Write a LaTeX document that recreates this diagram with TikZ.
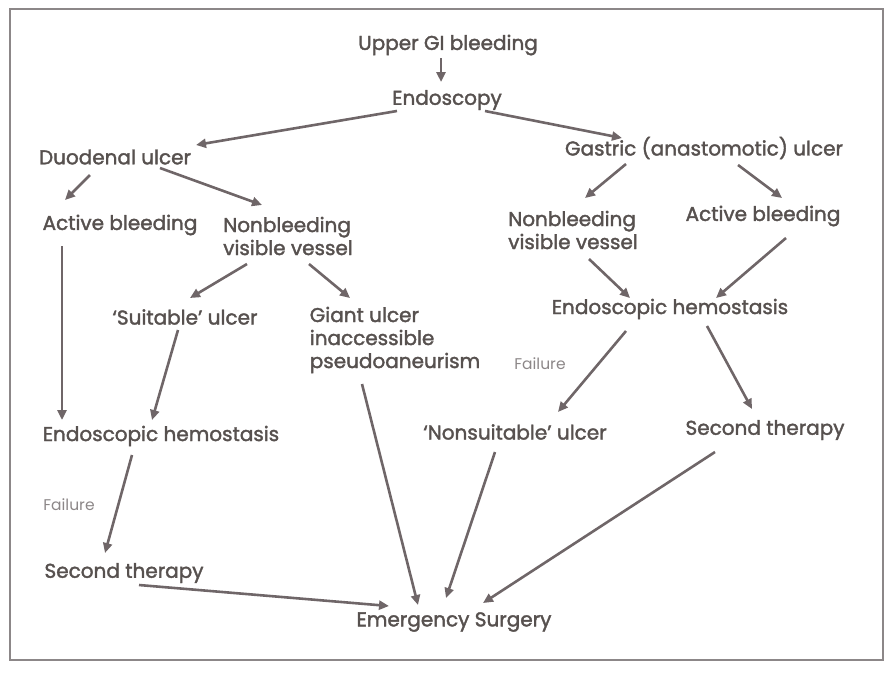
\documentclass[tikz,border=0pt]{standalone}
\usepackage{fontspec}
\setmainfont{Poppins}
\newfontfamily\stepfont{Poppins}[FakeBold=1.8]
\usepackage{xcolor}
\usetikzlibrary{arrows.meta,calc}
\definecolor{txtgray}{HTML}{57514F}
\definecolor{arrgray}{HTML}{6F6668}
\definecolor{lightgray}{HTML}{8C8788}

\begin{document}
\begin{tikzpicture}[x=1pt, y=-1pt,
  stepN/.style={inner sep=0pt, text=txtgray, font=\stepfont\fontsize{20}{23}\selectfont},
  multiN/.style={stepN, align=left},
  failN/.style={inner sep=0pt, text=lightgray, font=\fontsize{15.5}{18}\selectfont},
  arr/.style={draw=arrgray, line width=2.6pt, -{Triangle[length=10pt, width=9pt]}}
]
\useasboundingbox (0,0) rectangle (890,673);
\draw[lightgray, line width=1.2pt] (10,9) rectangle (883,660);
% Top
\node[stepN] (ugi) at (448,45) {Upper GI bleeding};
\node[stepN] (endo) at (447,100) {Endoscopy};
\node[stepN] (duo) at (115,157) {Duodenal ulcer};
\node[stepN] (gas) at (704,148) {Gastric (anastomotic) ulcer};
% Duodenal side
\node[stepN] (actL) at (120,225) {Active bleeding};
\node[multiN] (nbL) at (288,236) {Nonbleeding\\visible vessel};
\node[stepN] (suit) at (185,317) {‘Suitable’ ulcer};
\node[multiN] (giant) at (395,340) {Giant ulcer\\inaccessible\\pseudoaneurism};
\node[stepN] (ehL) at (161,436) {Endoscopic hemostasis};
\node[failN] (failL) at (69,505) {Failure};
\node[stepN] (secL) at (124,573) {Second therapy};
% Gastric side
\node[multiN] (nbR) at (573,230) {Nonbleeding\\visible vessel};
\node[stepN] (actR) at (763,216) {Active bleeding};
\node[stepN] (ehR) at (670,309) {Endoscopic hemostasis};
\node[failN] (failR) at (540,364) {Failure};
\node[stepN] (nons) at (515,432) {‘Nonsuitable’ ulcer};
\node[stepN] (secR) at (765,430) {Second therapy};
% Bottom
\node[stepN] (emer) at (454,622) {Emergency Surgery};
% Arrows
\draw[arr] ([shift={(-7,13)}]ugi.center) -- ([shift={(-6,-18)}]endo.center);
\draw[arr] ([shift={(-50,11)}]endo.center) -- ([shift={(81,-12)}]duo.center);
\draw[arr] ([shift={(38,11)}]endo.center) -- ([shift={(-82,-10)}]gas.center);
\draw[arr] ([shift={(-25,18)}]duo.center) -- ([shift={(-55,-25)}]actL.center);
\draw[arr] ([shift={(45,11)}]duo.center) -- ([shift={(-26,-31)}]nbL.center);
\draw[arr] ([shift={(-78,16)}]gas.center) -- ([shift={(12,-32)}]nbR.center);
\draw[arr] ([shift={(34,17)}]gas.center) -- ([shift={(19,-18)}]actR.center);
\draw[arr] ([shift={(-41,28)}]nbL.center) -- ([shift={(5,-19)}]suit.center);
\draw[arr] ([shift={(21,28)}]nbL.center) -- ([shift={(-45,-42)}]giant.center);
\draw[arr] ([shift={(-58,21)}]actL.center) -- ([shift={(-99,-16)}]ehL.center);
\draw[arr] ([shift={(-7,13)}]suit.center) -- ([shift={(-9,-16)}]ehL.center);
\draw[arr] ([shift={(-33,44)}]giant.center) -- ([shift={(-36,-17)}]emer.center);
\draw[arr] ([shift={(16,29)}]nbR.center) -- ([shift={(-40,-11)}]ehR.center);
\draw[arr] ([shift={(23,22)}]actR.center) -- ([shift={(46,-11)}]ehR.center);
\draw[arr] ([shift={(-44,22)}]ehR.center) -- ([shift={(43,-20)}]nons.center);
\draw[arr] ([shift={(37,17)}]ehR.center) -- ([shift={(-13,-21)}]secR.center);
\draw[arr] ([shift={(-29,19)}]ehL.center) -- ([shift={(-19,-20)}]secL.center);
\draw[arr] ([shift={(15,12)}]secL.center) -- ([shift={(-65,-16)}]emer.center);
\draw[arr] ([shift={(-20,20)}]nons.center) -- ([shift={(-8,-24)}]emer.center);
\draw[arr] ([shift={(-50,22)}]secR.center) -- ([shift={(29,-19)}]emer.center);
\end{tikzpicture}
\end{document}
